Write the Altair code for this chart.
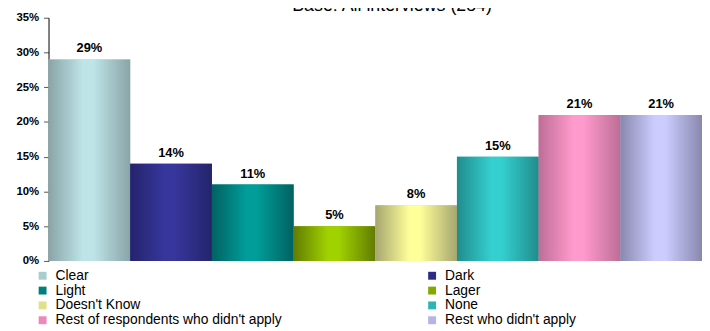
import json
import altair as alt
import pandas as pd

# ---- data ----
categories = ["Clear", "Dark", "Light", "Lager", "Doesn't Know", "None",
              "Rest of respondents who didn't apply", "Rest who didn't apply"]
values = [29, 14, 11, 5, 8, 15, 21, 21]
edge_colors = ["#89a4a7", "#24246c", "#006262", "#627c00", "#a6a670", "#218c8c", "#bd6e96", "#8888ae"]
center_colors = ["#bee4e7", "#36369c", "#009d99", "#a0d200", "#ffff99", "#34cfcf", "#ff9acc", "#ccccff"]
legend_colors = ["#a9ccd0", "#2c2c88", "#007f7c", "#84a800", "#e0e08a", "#2db5b5", "#ee88bb", "#b4b4e6"]
title_text = "Base: All interviews (284)"
y_ticks = [0, 0.05, 0.10, 0.15, 0.20, 0.25, 0.30, 0.35]

df = pd.DataFrame({"cat": categories, "value": [v / 100 for v in values]})


def gradient(edge, center):
    return {
        "gradient": "linear", "x1": 0, "y1": 0, "x2": 1, "y2": 0,
        "stops": [
            {"offset": 0, "color": edge},
            {"offset": 0.42, "color": center},
            {"offset": 0.55, "color": center},
            {"offset": 1, "color": edge},
        ],
    }


fill_enc = {
    "condition": [
        {"test": "datum.cat === " + json.dumps(c), "value": gradient(e, m)}
        for c, e, m in zip(categories, edge_colors, center_colors)
    ],
    "value": "#999999",
}

base = alt.Chart(df).encode(
    x=alt.X("cat:N", sort=categories,
            scale=alt.Scale(paddingInner=0, paddingOuter=0), axis=None),
    y=alt.Y("value:Q", scale=alt.Scale(domain=[0, 0.35], nice=False),
            axis=alt.Axis(values=y_ticks, format=".0%", title=None, grid=False,
                          labelFont="Liberation Sans", labelFontSize=11.5,
                          labelFontWeight="bold", labelColor="black",
                          labelPadding=5, tickSize=5, tickColor="#555555",
                          domainColor="black", labelOverlap=False)),
)

legend_bars = base.mark_bar().encode(
    color=alt.Color("cat:N", sort=categories,
                    scale=alt.Scale(domain=categories, range=legend_colors),
                    legend=alt.Legend(orient="none", legendX=-13, legendY=254,
                                      direction="horizontal",
                                      columns=2, title=None, padding=0,
                                      symbolType="square", symbolSize=64,
                                      symbolStrokeWidth=0,
                                      labelFont="Liberation Sans", labelFontSize=14,
                                      labelColor="black", labelOffset=6,
                                      rowPadding=1, columnPadding=144,
                                      labelLimit=400))
)

grad_bars = base.mark_bar().encode(fill=fill_enc)

labels = base.mark_text(font="Liberation Sans", fontSize=13, fontWeight="bold",
                        color="black", baseline="alphabetic", dy=-7).encode(
    text=alt.Text("value:Q", format=".0%")
)

chart = alt.layer(legend_bars, grad_bars, labels).properties(
    width=661, height=246,
    title=alt.TitleParams(text=title_text, fontSize=18, font="Liberation Sans",
                          fontWeight="normal", color="black", anchor="middle",
                          baseline="alphabetic", offset=0, dx=17, dy=17.5),
    autosize=alt.AutoSizeParams(type="none"),
    padding={"left": 41, "top": 8, "right": 0, "bottom": 65},
).configure_view(stroke=None)

chart.save("out.html", embed_options={"renderer": "svg", "actions": False})
